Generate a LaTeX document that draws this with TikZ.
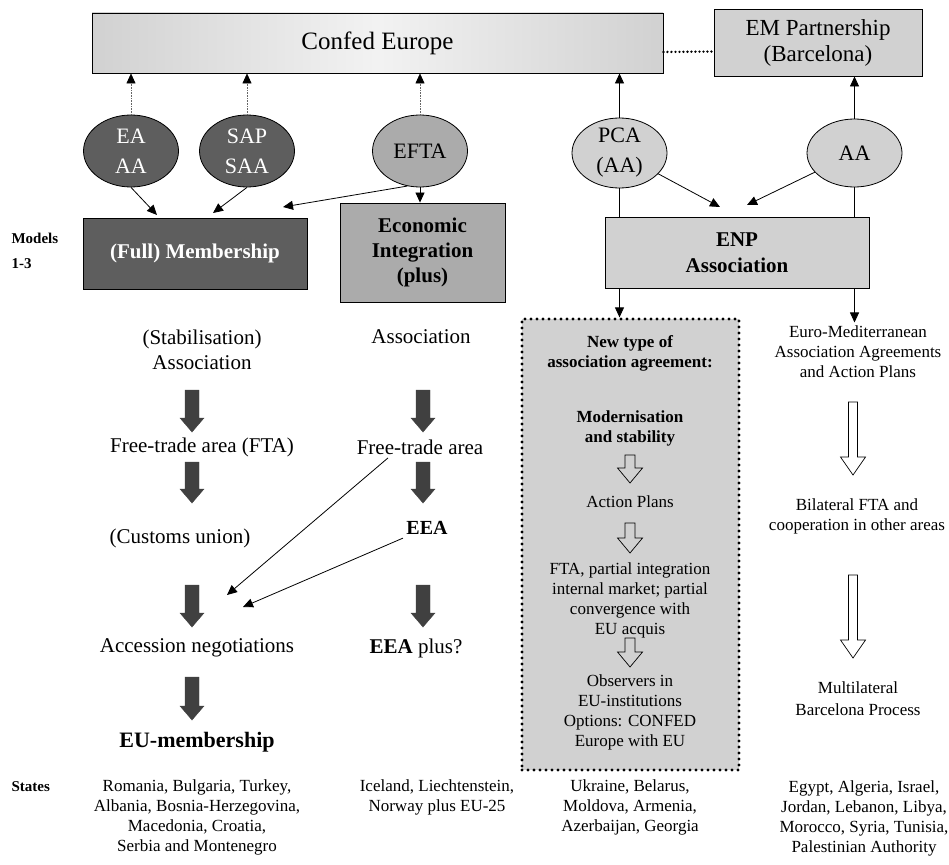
\documentclass[tikz,border=0pt]{standalone}
\usepackage{fontspec}
\setmainfont{Liberation Serif}
\usetikzlibrary{arrows.meta,shapes.geometric}

\definecolor{darkfill}{gray}{0.37}
\definecolor{midfill}{gray}{0.67}
\definecolor{lightfill}{gray}{0.82}
\definecolor{blockfill}{gray}{0.25}

\tikzset{
  box/.style={draw, line width=0.9pt, inner sep=0pt, align=center},
  oval/.style={ellipse, draw, line width=0.8pt, minimum width=95pt, minimum height=72pt,
    inner sep=0pt, align=center, font=\fontsize{22}{30}\selectfont},
  bigtext/.style={align=center, font=\fontsize{21}{25}\selectfont},
  smalltext/.style={align=center, font=\fontsize{17}{20}\selectfont},
  smallbold/.style={align=center, font=\fontsize{17}{20}\selectfont\bfseries},
  sidelabel/.style={align=left, anchor=west, font=\fontsize{15}{25}\selectfont\bfseries},
  link/.style={line width=0.8pt, -{Triangle[length=10pt,width=9pt]}},
  dotlink/.style={densely dotted, line width=0.6pt, draw=black!60,
    -{Triangle[length=10pt,width=9pt,color=black]}},
  bigdots/.style={line width=3.2pt, dash pattern=on 0pt off 6pt, line cap=round},
  darkblock/.style={fill=blockfill, draw=blockfill},
  openblock/.style={draw, line width=0.7pt},
}
% style, x, y top, y tip, half shaft, half head, head length
\newcommand\fatarrow[7]{%
  \draw[#1] ({#2-#5},#3) -- ({#2+#5},#3) -- ({#2+#5},{#4-#7}) -- ({#2+#6},{#4-#7})
    -- (#2,#4) -- ({#2-#6},{#4-#7}) -- ({#2-#5},{#4-#7}) -- cycle;}

\begin{document}
\begin{tikzpicture}[x=1pt,y=-1pt]
  \useasboundingbox (0,0) rectangle (949,864);

  \node[box, left color=black!18, right color=black!18, middle color=black!5,
    minimum width=571pt, minimum height=60pt, font=\fontsize{25}{30}\selectfont]
    (confed) at (377.5,43) {Confed Europe};
  \node[box, fill=lightfill, minimum width=208pt, minimum height=67pt,
    font=\fontsize{23}{26}\selectfont] (empart) at (818,42.5) {EM Partnership\\(Barcelona)};
  \draw[line width=2.6pt, dash pattern=on 0pt off 4pt, line cap=round]
    ([yshift=-9pt]confed.east) -- ([yshift=-9pt]empart.west);

  \node[oval, fill=darkfill, text=white] (eaaa) at (131,151) {EA\\AA};
  \node[oval, fill=darkfill, text=white] (sapsaa) at (247,151) {SAP\\SAA};
  \node[oval, fill=midfill] (efta) at (420,151) {EFTA};
  \node[oval, fill=lightfill, minimum height=70pt] (pca) at (619.5,153) {PCA\\(AA)};
  \node[oval, fill=lightfill, minimum height=68pt] (aa) at (854.5,153) {AA};

  \node[box, fill=darkfill, text=white, minimum width=224pt, minimum height=71pt,
    font=\fontsize{21}{25}\selectfont\bfseries] (fullmem) at (195,253.5) {(Full) Membership};
  \node[box, fill=midfill, minimum width=165pt, minimum height=99pt,
    font=\fontsize{21}{25}\selectfont\bfseries] (ecoint) at (422.5,252.5) {Economic\\Integration\\(plus)};
  \node[box, fill=lightfill, minimum width=264pt, minimum height=71pt,
    font=\fontsize{21}{26}\selectfont\bfseries] (enp) at (737,252.5) {ENP\\Association};
  \node[fill=lightfill, draw, bigdots, minimum width=217pt, minimum height=451pt,
    inner sep=0pt] (newbox) at (630.5,544.5) {};

  \node[sidelabel] (models) at (8,250.5) {Models\\1-3};
  \node[sidelabel] (states) at (8,787) {States};

  \node[bigtext] (stab) at (202,349.5) {(Stabilisation)\\Association};
  \node[bigtext] (fta) at (202,447) {Free-trade area (FTA)};
  \node[bigtext] (cu) at (180,538) {(Customs union)};
  \node[bigtext] (acc) at (197,648) {Accession negotiations};
  \node[bigtext, font=\fontsize{22}{25}\selectfont\bfseries] (eumem) at (197,742) {EU-membership};

  \node[bigtext] (assoc) at (421,337) {Association};
  \node[bigtext] (fta2) at (420,447) {Free-trade area};
  \node[bigtext, font=\fontsize{20}{25}\selectfont\bfseries] (eea) at (427,528) {EEA};
  \node[bigtext] (eeaplus) at (416,648) {\textbf{EEA} plus?};

  \node[smallbold] (newtype) at (630,353) {New type of\\association agreement:};
  \node[smallbold] (modern) at (630,428.5) {Modernisation\\and stability};
  \node[smalltext] (actplans) at (630,502) {Action Plans};
  \node[smalltext] (ftapart) at (630,600) {FTA, partial integration\\internal market; partial\\convergence with\\EU acquis};
  \node[smalltext] (observers) at (630,712.5) {Observers in\\EU-institutions\\Options: CONFED\\Europe with EU};

  \node[smalltext] (emed) at (858,352) {Euro-Mediterranean\\Association Agreements\\and Action Plans};
  \node[smalltext] (bilat) at (857,516.5) {Bilateral FTA and\\cooperation in other areas};
  \node[smalltext, font=\fontsize{17}{22}\selectfont] (multi) at (858,699) {Multilateral\\Barcelona Process};

  \node[smalltext] (stmem) at (197,817) {Romania, Bulgaria, Turkey,\\Albania, Bosnia-Herzegovina,\\Macedonia, Croatia,\\Serbia and Montenegro};
  \node[smalltext] (stefta) at (437,797) {Iceland, Liechtenstein,\\Norway plus EU-25};
  \node[smalltext] (stenp) at (630,807) {Ukraine, Belarus,\\Moldova, Armenia,\\Azerbaijan, Georgia};
  \node[smalltext] (stmed) at (864,818) {Egypt, Algeria, Israel,\\Jordan, Lebanon, Libya,\\Morocco, Syria, Tunisia,\\Palestinian Authority};

  \draw[dotlink] (eaaa.north) -- (eaaa.north |- confed.south);
  \draw[dotlink] (sapsaa.north) -- (sapsaa.north |- confed.south);
  \draw[dotlink] (efta.north) -- (efta.north |- confed.south);
  \draw[link] (pca.north) -- (pca.north |- confed.south);
  \draw[link] (aa.north) -- (aa.north |- empart.south);

  \coordinate (fm-a) at (157,215);
  \coordinate (fm-b) at (213,213);
  \coordinate (fm-c) at (283,207);
  \coordinate (enp-a) at (720,207);
  \coordinate (enp-b) at (747,205);
  \draw[link] (eaaa.south) -- (fm-a);
  \draw[link] (sapsaa.south) -- (fm-b);
  \draw[link] (efta.250) -- (fm-c);
  \draw[link] (efta.south) -- (efta.south |- ecoint.north);
  \draw[link] (pca) -- (enp-a);
  \draw[link] (aa) -- (enp-b);
  \draw[line width=0.8pt] (pca.south) -- (pca.south |- enp.north);
  \draw[line width=0.8pt] (aa.south) -- (aa.south |- enp.north);
  \draw[link] (pca.south |- enp.south) -- (pca.south |- newbox.north);
  \draw[link] (aa.south |- enp.south) -- (aa.south |- emed.north);

  \coordinate (acc-a) at (227,595);
  \coordinate (acc-b) at (243,607);
  \draw[link] ([xshift=-32pt]fta2.south) -- (acc-a);
  \draw[link] (eea.south west) -- (acc-b);

  \foreach \x/\a/\b in {192/390/432, 192/462/503, 192/585/627, 192/677/720,
                        423/390/432, 423/462/503, 423/585/627}
    \fatarrow{darkblock}{\x}{\a}{\b}{7}{12}{14};
  \foreach \a/\b in {455/483, 523/553, 638/667}
    \fatarrow{openblock}{630}{\a}{\b}{5}{12.5}{15};
  \foreach \a/\b in {402/475, 575/658}
    \fatarrow{openblock}{853}{\a}{\b}{4.5}{12.5}{18};
\end{tikzpicture}
\end{document}
